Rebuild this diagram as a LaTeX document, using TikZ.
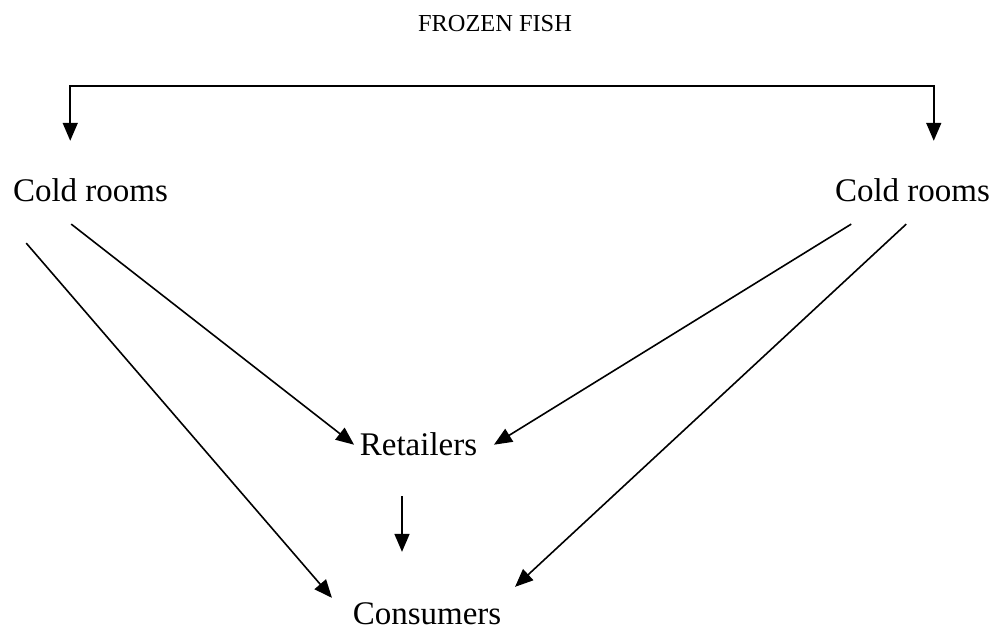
\documentclass[tikz,border=0pt]{standalone}
\usepackage{fontspec}
\setmainfont{Liberation Serif}
\usetikzlibrary{calc,
arrows.meta,
positioning}

\begin{document}
\begin{tikzpicture} [x = 1pt,
    y = -1pt,
    -{Triangle[length = 18pt, width = 15pt]},
    line width = 1.6pt,
    label node/.style={inner sep = 0pt, anchor = base,
        font=\fontsize{33}{36}\selectfont}
  ]

  \useasboundingbox (0, 0) rectangle (994, 631);

  \node [
    inner sep = 0pt,
    anchor = base,
    font = \fontsize{24.4}{28}\selectfont
  ] (title) at (495, 32) {FROZEN FISH};

  \node [label node] (coldl) at (90.5, 202) {Cold rooms};

  \node [label node] (coldr) at (912.5, 202) {Cold rooms};

  \node [label node] (retail) at (418.5, 455) {Retailers};

  \node [label node] (cons) at (427, 624) {Consumers};

  % supply line to both cold rooms
  \draw [{Triangle[length = 18pt, width = 15pt]}-{Triangle[length = 18pt, width = 15pt]}]
  ($(coldl.north west) + (58, -37.5)$) -- ++(0, -55)
  -| ($(coldr.north east) + (-57, -37.5)$);

  \draw ($(coldl.south west) + (59, 21)$) -- ($(retail.west) + (-5, 1)$);
  \draw ($(coldl.south west) + (14, 40)$) -- ($(cons.north west) + (-20, -3.5)$);

  \draw ($(coldr.south west) + (17, 21)$) -- ($(retail.east) + (16, 1)$);
  \draw ($(coldr.south west) + (72, 21)$) -- ($(cons.north east) + (13, -14.5)$);

  \draw ($(retail.south) + (-16.5, 40)$) -- ($(cons.north) + (-25, -49.5)$);

\end{tikzpicture}
\end{document}
